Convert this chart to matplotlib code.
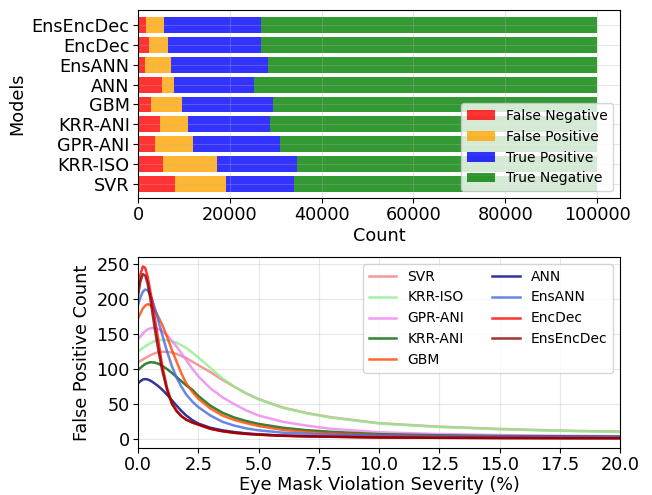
import numpy as np
import matplotlib
matplotlib.use("Agg")
import matplotlib.pyplot as plt
from matplotlib.ticker import MultipleLocator

# ---- top panel: confusion counts per model (bottom to top) ----
models = ["SVR", "KRR-ISO", "GPR-ANI", "KRR-ANI", "GBM", "ANN", "EnsANN", "EncDec", "EnsEncDec"]
false_negative = [8000, 5500, 3600, 4800, 2800, 5300, 1600, 2400, 1750]
false_positive = [11200, 11800, 8300, 6000, 6700, 2600, 5600, 4100, 3950]
true_positive = [14800, 17400, 19100, 18000, 19900, 17400, 21100, 20300, 21000]
true_negative = [66000, 65300, 69000, 71200, 70600, 74700, 71700, 73200, 73300]

# ---- bottom panel: false positive count vs severity ----
severity = [0, 0.1, 0.2, 0.3, 0.4, 0.5, 0.6, 0.7, 0.8, 0.9, 1.0, 1.2, 1.4, 1.6, 1.8, 2.0,
            2.25, 2.5, 3.0, 3.5, 4.0, 4.5, 5.0, 6.0, 7.0, 8.0, 10.0, 12.5, 15.0, 17.5, 20.0]
fp_svr = [110, 112, 114, 116, 118, 120, 121.5, 123, 124, 124.5, 125, 125, 124, 122, 119, 116,
          111, 106, 96, 85, 75, 65.5, 57.5, 45.5, 37.5, 31.5, 23, 18, 14.8, 12.4, 10.9]
fp_krr_iso = [126, 128, 130.5, 133, 135, 137, 139, 140.5, 141.5, 142, 142, 141.5, 140, 138, 134.5, 130.5,
              124, 117, 102, 87, 75, 65, 57, 45, 37, 31, 22.5, 17.5, 14.3, 12, 10.5]
fp_gpr_ani = [143, 147, 151, 154.5, 157, 158.5, 159, 159, 158, 156.5, 154.5, 149, 141, 132.5, 123, 113,
              101, 90, 73, 60, 50, 41, 34, 25, 19.5, 15, 10, 7.5, 6, 5.2, 4.6]
fp_krr_ani = [99, 102, 105, 107.5, 109, 110, 110, 109.5, 108.5, 107, 105, 100.5, 95, 89, 83, 77,
              71, 62, 48, 38, 31, 26, 22, 16.5, 13, 10.7, 7.3, 5.6, 4.7, 4.2, 3.8]
fp_gbm = [173, 180, 187, 191, 193, 192, 189, 184, 178, 171, 164, 147, 128, 111, 94, 80,
          68, 58, 44, 34, 27.5, 23, 19, 13.5, 10.5, 8.5, 5.8, 4.5, 3.6, 3.1, 2.7]
fp_ann = [80, 83, 85.5, 86, 85.5, 84, 82, 79.5, 77, 74, 71, 64, 56, 48, 40.5, 34,
          27.5, 22.5, 16.5, 12.8, 10.3, 8.4, 7.1, 5.3, 4.4, 3.8, 2.9, 2.3, 2.0, 1.8, 1.7]
fp_ens_ann = [192, 203, 211, 214, 213, 207, 198, 187, 175, 162, 150, 126, 105, 88, 75, 64,
              54, 46, 34, 25, 19.5, 15.5, 12.8, 9.5, 7.8, 6.7, 5.2, 4.4, 3.9, 3.5, 3.2]
fp_enc_dec = [215, 236, 247, 245, 232, 213, 195, 172, 150, 128, 106, 74, 52, 41, 33, 28,
              24, 21, 15, 11.5, 9.2, 7.7, 6.6, 5, 4.2, 3.6, 2.6, 2.1, 1.8, 1.6, 1.5]
fp_ens_enc_dec = [205, 226, 236, 234, 222, 203, 180, 157, 136, 117, 99, 71, 51, 40, 33, 28,
                  24, 21, 15, 11.5, 9.2, 7.7, 6.6, 5, 4.2, 3.6, 2.6, 2.1, 1.8, 1.6, 1.5]

curve_names = ["SVR", "KRR-ISO", "GPR-ANI", "KRR-ANI", "GBM", "ANN", "EnsANN", "EncDec", "EnsEncDec"]
curve_values = [fp_svr, fp_krr_iso, fp_gpr_ani, fp_krr_ani, fp_gbm, fp_ann, fp_ens_ann, fp_enc_dec, fp_ens_enc_dec]
curve_colors = ["lightcoral", "lightgreen", "violet", "darkgreen", "orangered",
                "navy", "royalblue", "red", "darkred"]


def main():
    fig = plt.figure(figsize=(6.52, 4.95), dpi=100)
    ax_top = fig.add_axes([0.2117, 0.6, 0.7393, 0.3798])
    ax_bot = fig.add_axes([0.2117, 0.0949, 0.7393, 0.3859])

    draw_counts(ax_top)
    draw_curves(ax_bot)

    fig.savefig("out.png", dpi=100)
    plt.close(fig)


def draw_counts(ax):
    y = np.arange(len(models))
    left = np.zeros(len(models))
    segments = [
        (false_negative, "red", "False Negative"),
        (false_positive, "orange", "False Positive"),
        (true_positive, "blue", "True Positive"),
        (true_negative, "green", "True Negative"),
    ]
    for values, color, label in segments:
        ax.barh(y, values, left=left, height=0.8, color=color, alpha=0.8, label=label)
        left = left + np.array(values)

    ax.set_yticks(y)
    ax.set_yticklabels(models)
    ax.set_xlim(0, 105000)
    ax.set_ylim(-0.72, 8.77)
    ax.set_xlabel("Count", fontsize=12.7, labelpad=2)
    ax.set_ylabel("Models", fontsize=12.7)
    ax.tick_params(labelsize=12.7, pad=2.5)
    ax.grid(True, alpha=0.3)
    ax.legend(loc="lower right", fontsize=10)


def draw_curves(ax):
    for name, values, color in zip(curve_names, curve_values, curve_colors):
        ax.plot(severity, values, color=color, alpha=0.8, lw=1.8, label=name)

    ax.set_xlim(0, 20)
    ax.set_ylim(-12.5, 260.5)
    ax.yaxis.set_major_locator(MultipleLocator(50))
    ax.set_xlabel("Eye Mask Violation Severity (%)", fontsize=12.7, labelpad=1)
    ax.set_ylabel("False Positive Count", fontsize=12.7)
    ax.tick_params(labelsize=12.7, pad=2.5)
    ax.grid(True, alpha=0.3)
    ax.legend(loc="upper right", ncol=2, fontsize=10)


main()
